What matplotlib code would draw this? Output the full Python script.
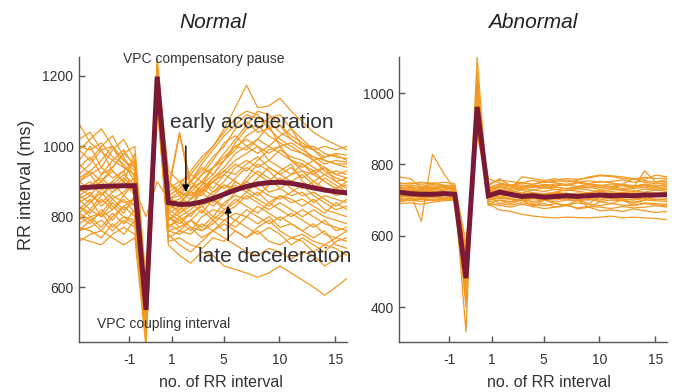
import numpy as np
import matplotlib
matplotlib.use('Agg')
import matplotlib.pyplot as plt

plt.rcParams['font.family'] = 'Liberation Sans'

# Позиции ударов: 0..5 до ЖЭС, 6 - интервал сцепления, 7 - компенсаторная пауза, 8..24 - после
beat_pos = np.arange(25)
tick_pos = [4.5, 8.3, 12.95, 17.95, 22.95]
tick_labels = ['-1', '1', '5', '10', '15']

# Normal - отдельные тахограммы (RR, мс)
normal_lines = [
    [1065, 1010, 985, 960, 990, 940, 560, 1230, 930, 900, 920, 960, 1000, 1050, 1110, 1174, 1110, 1115, 1137, 1100, 1070, 1040, 1020, 1005, 990],
    [1000, 990, 1010, 970, 950, 900, 540, 1210, 880, 1040, 900, 950, 990, 1030, 1060, 1090, 1080, 1070, 1040, 1020, 1000, 990, 970, 975, 960],
    [960, 1000, 940, 990, 1020, 960, 520, 1250, 900, 870, 860, 890, 920, 960, 1010, 1050, 1060, 1030, 1010, 990, 980, 960, 970, 980, 975],
    [920, 950, 990, 930, 900, 980, 590, 1190, 860, 880, 900, 870, 910, 940, 980, 1000, 1020, 1060, 1000, 960, 940, 960, 930, 910, 900],
    [900, 880, 920, 960, 940, 920, 500, 1220, 850, 840, 870, 900, 880, 920, 950, 930, 960, 990, 1000, 960, 930, 920, 940, 900, 880],
    [880, 900, 860, 900, 930, 870, 560, 1180, 830, 820, 850, 880, 900, 880, 910, 940, 920, 900, 930, 950, 900, 880, 910, 890, 870],
    [860, 840, 880, 850, 870, 900, 530, 1200, 810, 830, 800, 840, 870, 890, 880, 900, 930, 910, 880, 900, 920, 890, 870, 880, 860],
    [850, 870, 830, 860, 840, 850, 470, 1170, 820, 800, 820, 850, 830, 860, 900, 880, 860, 890, 910, 880, 860, 870, 850, 830, 850],
    [830, 810, 850, 820, 860, 830, 540, 1160, 790, 810, 840, 810, 850, 830, 870, 900, 880, 860, 850, 870, 890, 860, 840, 820, 830],
    [820, 850, 800, 840, 810, 860, 510, 1190, 800, 780, 810, 830, 800, 840, 860, 850, 870, 840, 860, 850, 830, 850, 820, 810, 800],
    [800, 780, 820, 790, 830, 800, 460, 1150, 770, 790, 760, 800, 820, 810, 830, 860, 840, 820, 840, 820, 800, 820, 800, 790, 780],
    [780, 800, 770, 810, 780, 820, 500, 1140, 760, 770, 790, 770, 800, 790, 810, 800, 830, 810, 790, 810, 790, 770, 790, 760, 770],
    [760, 770, 790, 760, 790, 770, 440, 1120, 740, 760, 750, 780, 760, 790, 770, 800, 780, 800, 770, 780, 760, 780, 750, 740, 760],
    [740, 730, 720, 750, 770, 750, 480, 1130, 730, 740, 720, 710, 740, 730, 760, 740, 760, 730, 720, 740, 730, 700, 720, 710, 690],
    [900, 930, 960, 1000, 960, 940, 580, 1240, 870, 1035, 880, 920, 960, 1010, 1030, 1000, 980, 1000, 1030, 1050, 1020, 990, 960, 950, 940],
    [940, 970, 920, 940, 980, 1000, 620, 1200, 900, 860, 900, 930, 970, 1000, 1050, 1070, 1040, 1050, 1060, 1020, 1000, 1000, 980, 970, 965],
    [870, 890, 910, 880, 910, 880, 800, 900, 850, 860, 830, 880, 860, 890, 870, 910, 950, 930, 900, 920, 950, 920, 900, 880, 890],
    [990, 960, 1000, 1030, 970, 910, 550, 1210, 840, 850, 880, 920, 940, 980, 1020, 1060, 1100, 1090, 1060, 1030, 1010, 990, 1000, 990, 1000],
    [810, 840, 870, 830, 800, 780, 490, 1180, 760, 750, 770, 740, 760, 780, 760, 740, 770, 790, 760, 740, 750, 730, 720, 740, 730],
    [770, 760, 740, 780, 750, 790, 470, 1160, 720, 690, 668, 700, 690, 660, 650, 640, 628, 640, 660, 640, 620, 600, 577, 600, 625],
    [850, 820, 860, 890, 920, 890, 520, 1230, 880, 900, 860, 880, 910, 930, 960, 980, 1000, 960, 940, 920, 930, 900, 880, 860, 870],
    [910, 930, 900, 870, 890, 910, 450, 1200, 820, 840, 870, 860, 900, 920, 900, 880, 910, 940, 920, 900, 880, 900, 920, 900, 910],
    [840, 860, 840, 870, 900, 860, 500, 1170, 790, 820, 850, 870, 840, 870, 890, 870, 900, 870, 880, 860, 870, 840, 860, 850, 840],
    [950, 920, 940, 910, 930, 960, 570, 1220, 860, 880, 920, 900, 940, 970, 1000, 990, 1020, 1000, 980, 960, 950, 930, 940, 920, 930],
    [790, 820, 800, 820, 850, 810, 480, 1150, 780, 760, 790, 820, 790, 820, 850, 830, 810, 840, 820, 800, 820, 800, 780, 770, 760],
    [730, 750, 760, 740, 720, 740, 430, 1120, 750, 720, 700, 730, 760, 740, 720, 700, 690, 710, 700, 680, 700, 690, 660, 680, 700],
    [1020, 1040, 990, 1000, 960, 930, 510, 1190, 870, 890, 930, 970, 1000, 1040, 1080, 1100, 1090, 1050, 1020, 1000, 980, 970, 960, 950, 950],
    [880, 860, 900, 940, 980, 950, 540, 1210, 900, 870, 900, 940, 920, 960, 990, 1030, 1050, 1080, 1090, 1050, 1000, 960, 940, 920, 910],
    [810, 790, 760, 800, 830, 850, 490, 1170, 800, 770, 790, 760, 780, 810, 790, 820, 800, 780, 800, 780, 760, 740, 760, 720, 710],
    [860, 880, 900, 930, 900, 870, 530, 1200, 840, 810, 830, 870, 900, 930, 920, 950, 970, 940, 920, 940, 910, 930, 900, 880, 900],
    [990, 1020, 1050, 1000, 940, 920, 560, 1230, 850, 870, 850, 890, 940, 960, 1000, 1020, 1000, 980, 1000, 1010, 990, 970, 950, 960, 955],
    [760, 790, 810, 770, 800, 790, 460, 1140, 770, 800, 770, 760, 790, 760, 790, 770, 750, 770, 750, 720, 740, 720, 700, 730, 740],
    [830, 800, 810, 850, 820, 840, 500, 1180, 810, 790, 810, 830, 850, 820, 840, 870, 850, 830, 860, 840, 850, 830, 810, 840, 820],
    [900, 920, 880, 900, 860, 900, 570, 1220, 860, 830, 880, 900, 870, 900, 940, 960, 940, 960, 990, 970, 960, 940, 920, 930, 920],
]
normal_mean = [882, 884, 886, 887, 888, 888, 535, 1198, 840, 835, 836, 842, 852, 864, 876, 886, 893, 897, 898, 895, 889, 882, 876, 871, 868]

# Abnormal
abnormal_lines = [
    [740, 720, 640, 828, 775, 730, 560, 900, 730, 745, 740, 735, 742, 738, 745, 740, 748, 743, 740, 745, 742, 738, 745, 740, 742],
    [765, 760, 735, 740, 735, 725, 520, 950, 720, 740, 730, 765, 760, 755, 760, 750, 755, 765, 770, 768, 765, 760, 758, 770, 765],
    [730, 735, 735, 732, 738, 728, 500, 980, 715, 728, 725, 720, 728, 724, 730, 726, 732, 728, 722, 730, 727, 724, 731, 727, 730],
    [720, 722, 718, 725, 720, 722, 480, 960, 708, 720, 715, 712, 718, 714, 720, 716, 712, 718, 715, 720, 716, 714, 718, 720, 717],
    [710, 708, 712, 706, 712, 715, 470, 1000, 700, 712, 705, 710, 704, 708, 712, 706, 710, 708, 712, 706, 710, 707, 709, 712, 710],
    [700, 698, 702, 700, 705, 708, 450, 1100, 695, 700, 690, 700, 696, 700, 694, 700, 698, 702, 696, 700, 698, 694, 700, 698, 696],
    [745, 748, 744, 748, 742, 735, 530, 920, 740, 760, 740, 748, 744, 752, 748, 744, 750, 746, 752, 748, 744, 760, 750, 745, 748],
    [690, 692, 688, 694, 698, 700, 430, 1020, 690, 685, 680, 688, 682, 676, 680, 684, 678, 682, 680, 676, 682, 678, 680, 684, 680],
    [715, 718, 720, 716, 714, 718, 330, 1060, 700, 705, 702, 698, 704, 700, 706, 702, 698, 704, 700, 706, 703, 700, 704, 701, 704],
    [705, 700, 704, 698, 702, 706, 400, 1040, 690, 672, 668, 660, 655, 652, 650, 652, 651, 650, 652, 655, 650, 652, 650, 648, 645],
    [728, 725, 730, 726, 722, 724, 510, 940, 712, 690, 695, 700, 685, 690, 680, 688, 675, 680, 670, 672, 668, 675, 670, 665, 668],
    [735, 738, 732, 736, 740, 730, 540, 900, 725, 735, 730, 738, 735, 742, 736, 732, 738, 734, 740, 736, 740, 735, 782, 750, 758],
    [712, 715, 710, 714, 716, 712, 490, 970, 705, 715, 712, 716, 720, 718, 722, 718, 716, 720, 724, 718, 722, 719, 720, 718, 722],
    [725, 722, 726, 720, 724, 726, 460, 1010, 718, 722, 718, 714, 690, 700, 710, 720, 700, 690, 710, 720, 705, 690, 700, 715, 712],
    [740, 742, 738, 744, 740, 742, 580, 880, 735, 745, 740, 742, 738, 744, 740, 742, 738, 745, 742, 738, 744, 740, 742, 738, 745],
    [700, 705, 702, 708, 704, 705, 500, 990, 688, 700, 696, 705, 680, 700, 690, 685, 700, 680, 695, 690, 700, 685, 692, 690, 688],
    [718, 720, 716, 722, 718, 715, 420, 1050, 710, 718, 714, 720, 716, 712, 718, 714, 720, 716, 712, 718, 714, 720, 716, 712, 718],
    [733, 730, 728, 732, 729, 733, 470, 930, 760, 748, 742, 748, 744, 750, 756, 760, 758, 762, 768, 766, 760, 758, 764, 760, 762],
    [722, 728, 724, 730, 726, 720, 500, 950, 720, 730, 726, 732, 728, 735, 730, 726, 732, 736, 730, 734, 728, 732, 736, 730, 734],
    [708, 712, 706, 710, 706, 710, 440, 1000, 700, 708, 703, 700, 706, 702, 700, 705, 702, 700, 706, 704, 700, 703, 706, 702, 700],
    [748, 745, 750, 746, 750, 745, 550, 910, 745, 755, 752, 748, 755, 750, 752, 756, 750, 754, 750, 752, 756, 750, 754, 750, 752],
    [695, 700, 696, 702, 700, 702, 460, 1030, 685, 690, 686, 692, 688, 684, 690, 686, 692, 688, 684, 690, 686, 684, 690, 686, 684],
    [715, 710, 714, 712, 716, 720, 520, 960, 715, 725, 720, 728, 720, 715, 722, 728, 725, 720, 728, 724, 720, 726, 722, 728, 724],
    [735, 730, 738, 734, 730, 738, 490, 990, 728, 740, 736, 730, 738, 733, 737, 731, 736, 740, 735, 738, 732, 736, 740, 734, 738],
]
abnormal_mean = [722, 718, 716, 716, 718, 716, 481, 961, 712, 722, 716, 710, 712, 708, 710, 712, 710, 712, 714, 712, 713, 712, 714, 714, 715]

orange = '#f29a24'
dark_red = '#7a1a35'
text_col = '#333333'

fig = plt.figure(figsize=(6.84, 3.92), dpi=100)
ax1 = fig.add_axes([0.1155, 0.1276, 0.3918, 0.727])
ax2 = fig.add_axes([0.5833, 0.1276, 0.3918, 0.727])


def draw_panel(ax, lines, mean, title, ylim, yticks):
    for ln in lines:
        ax.plot(beat_pos, ln, color=orange, lw=0.9)
    ax.plot(beat_pos, mean, color=dark_red, lw=3.6, solid_joinstyle='miter')
    ax.set_xlim(0, 24)
    ax.set_ylim(*ylim)
    ax.set_xticks(tick_pos)
    ax.set_xticklabels(tick_labels)
    ax.set_yticks(yticks)
    for s in ['top', 'right']:
        ax.spines[s].set_visible(False)
    for s in ['left', 'bottom']:
        ax.spines[s].set_color('#555555')
        ax.spines[s].set_linewidth(1.0)
    ax.tick_params(direction='in', length=4, width=1, color='#555555',
                   labelsize=10, labelcolor=text_col)
    ax.tick_params(axis='x', pad=8)
    ax.tick_params(axis='y', pad=4)
    ax.set_title(title, style='italic', fontsize=15, color='#222222', pad=21)
    ax.set_xlabel('no. of RR interval', fontsize=11.5, color=text_col)


draw_panel(ax1, normal_lines, normal_mean, 'Normal', (444, 1254), [600, 800, 1000, 1200])
draw_panel(ax2, abnormal_lines, abnormal_mean, 'Abnormal', (302, 1101), [400, 600, 800, 1000])

ax1.xaxis.set_label_coords(0.53, -0.115)
ax2.xaxis.set_label_coords(0.56, -0.115)
ax1.set_ylabel('RR interval (ms)', fontsize=13, color=text_col)
ax1.yaxis.set_label_coords(-0.165, 0.55)

# подписи
ax1.text(3.95, 1236, 'VPC compensatory pause', fontsize=10, color=text_col, va='baseline')
ax1.text(1.6, 483, 'VPC coupling interval', fontsize=10, color=text_col, va='baseline')
ax1.text(8.16, 1053, 'early acceleration', fontsize=15, color=text_col, va='baseline')
ax1.text(10.67, 672, 'late deceleration', fontsize=15, color=text_col, va='baseline')
ax1.annotate('', xy=(9.57, 862), xytext=(9.57, 1009),
             arrowprops=dict(arrowstyle='-|>', color='black', lw=1, mutation_scale=10))
ax1.annotate('', xy=(13.36, 839), xytext=(13.36, 725),
             arrowprops=dict(arrowstyle='-|>', color='black', lw=1, mutation_scale=10))

plt.savefig('out.png', dpi=100)
